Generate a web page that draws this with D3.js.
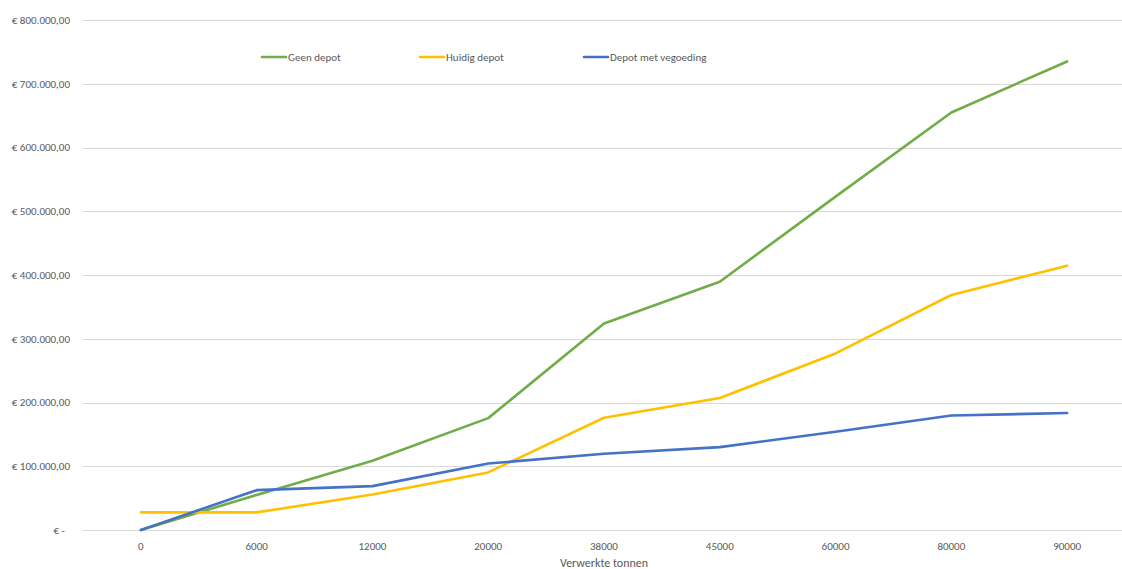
<!DOCTYPE html>
<html>
<head>
<meta charset="utf-8">
<script src="https://cdn.jsdelivr.net/npm/d3@7"></script>
<style>
  html, body { margin: 0; padding: 0; background: #fff; }
  svg { display: block; font-family: Calibri, Carlito, "Liberation Sans Narrow", "Liberation Sans", sans-serif; }
</style>
</head>
<body>
<svg id="chart" width="1122" height="569"></svg>
<script>
const categories = ["0", "6000", "12000", "20000", "38000", "45000", "60000", "80000", "90000"];
const geenDepot = [0, 55000, 108500, 175500, 324000, 389500, 523000, 655000, 735000];
const huidigDepot = [27600, 27600, 55700, 90300, 176000, 207000, 277000, 368600, 414500];
const depotMetVergoeding = [0, 62500, 68800, 104200, 119500, 130000, 154000, 179500, 183500];
const seriesNames = ["Geen depot", "Huidig depot", "Depot met vegoeding"];
const seriesColors = ["#70AD47", "#FFC000", "#4472C4"];
const yTicks = [0, 100000, 200000, 300000, 400000, 500000, 600000, 700000, 800000];
const yTickLabels = ["€ -", "€ 100.000,00", "€ 200.000,00", "€ 300.000,00", "€ 400.000,00",
                     "€ 500.000,00", "€ 600.000,00", "€ 700.000,00", "€ 800.000,00"];
const xTitle = "Verwerkte tonnen";

const svg = d3.select("#chart");
const plotLeft = 83, plotRight = 1125, plotTop = 20, plotBottom = 530;

const x = d3.scaleBand().domain(categories).range([plotLeft, plotRight]).padding(0);
const y = d3.scaleLinear().domain([0, 800000]).range([plotBottom, plotTop]);

// gridlines
svg.append("g").selectAll("line").data(yTicks).join("line")
  .attr("x1", plotLeft).attr("x2", plotRight)
  .attr("y1", d => Math.round(y(d)) + 0.5).attr("y2", d => Math.round(y(d)) + 0.5)
  .attr("stroke", "#D9D9D9").attr("stroke-width", 1);

// y labels
svg.append("g").selectAll("text").data(yTicks).join("text")
  .attr("x", d => d === 0 ? 65 : 70)
  .attr("y", d => y(d))
  .attr("dy", "0.35em")
  .attr("text-anchor", "end")
  .attr("font-size", 11)
  .attr("fill", "#595959")
  .text((d, i) => yTickLabels[i]);

// x labels
svg.append("g").selectAll("text").data(categories).join("text")
  .attr("x", d => x(d) + x.bandwidth() / 2)
  .attr("y", 546)
  .attr("dy", "0.35em")
  .attr("text-anchor", "middle")
  .attr("font-size", 11)
  .attr("fill", "#595959")
  .text(d => d);

// x title
svg.append("text")
  .attr("x", 604).attr("y", 563).attr("dy", "0.35em")
  .attr("text-anchor", "middle")
  .attr("font-size", 12)
  .attr("fill", "#595959")
  .text(xTitle);

// lines
const allSeries = [geenDepot, huidigDepot, depotMetVergoeding];
const line = d3.line()
  .x((d, i) => x(categories[i]) + x.bandwidth() / 2)
  .y(d => y(d));

allSeries.forEach((s, k) => {
  svg.append("path")
    .datum(s)
    .attr("d", line)
    .attr("fill", "none")
    .attr("stroke", seriesColors[k])
    .attr("stroke-width", 2.6)
    .attr("stroke-linejoin", "round")
    .attr("stroke-linecap", "round");
});

// legend
const legendX = [262, 420, 584];
const legend = svg.append("g");
seriesNames.forEach((name, k) => {
  legend.append("line")
    .attr("x1", legendX[k]).attr("x2", legendX[k] + 24)
    .attr("y1", 57).attr("y2", 57)
    .attr("stroke", seriesColors[k]).attr("stroke-width", 2.6)
    .attr("stroke-linecap", "round");
  legend.append("text")
    .attr("x", legendX[k] + 26).attr("y", 57).attr("dy", "0.35em")
    .attr("font-size", 11)
    .attr("fill", "#595959")
    .text(name);
});
</script>
</body>
</html>
